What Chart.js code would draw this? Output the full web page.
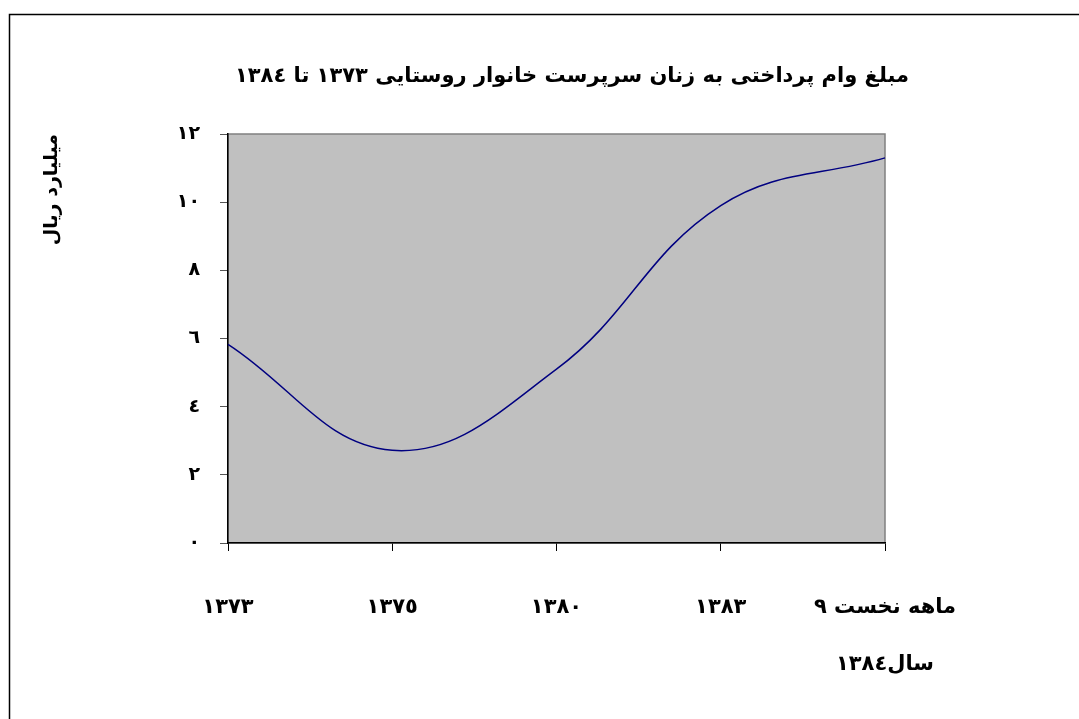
<!DOCTYPE html>
<html><head><meta charset="utf-8">
<script src="https://cdn.jsdelivr.net/npm/chart.js@4.4.1/dist/chart.umd.min.js"></script>
<style>html,body{margin:0;padding:0;background:#fff;overflow:hidden}#wrap{width:1079px;height:719px;position:relative}</style>
</head><body><div id="wrap"><canvas id="c" width="1079" height="719"></canvas></div>
<script>
const years = ['١٣٧٣', '١٣٧٥', '١٣٨٠', '١٣٨٣', ['ماهه نخست ٩', 'سال١٣٨٤']];
const loanValues = [5.83, 2.72, 5.1, 9.9, 11.3];
const yTickLabels = ['٠', '٢', '٤', '٦', '٨', '١٠', '١٢'];
const chartTitle = 'مبلغ وام پرداختی به زنان سرپرست خانوار روستایی ١٣٧٣ تا ١٣٨٤';
const yAxisTitle = 'میلیارد ریال';

const FAMILY = "'DejaVu Sans', sans-serif";

const framePlugin = {
  id: 'framePlugin',
  beforeDraw(chart) {
    const {ctx, chartArea: a} = chart;
    ctx.save();
    ctx.fillStyle = '#fff';
    ctx.fillRect(0, 0, chart.width, chart.height);
    ctx.strokeStyle = '#000';
    ctx.lineWidth = 1.5;
    ctx.beginPath();
    ctx.moveTo(9.5, chart.height);
    ctx.lineTo(9.5, 14.5);
    ctx.lineTo(chart.width, 14.5);
    ctx.stroke();
    ctx.fillStyle = '#c0c0c0';
    ctx.fillRect(a.left, a.top, a.right - a.left, a.bottom - a.top);
    ctx.strokeStyle = '#808080';
    ctx.lineWidth = 1.5;
    ctx.strokeRect(a.left, a.top, a.right - a.left, a.bottom - a.top);
    ctx.fillStyle = '#000';
    ctx.font = 'bold 21px ' + FAMILY;
    ctx.textAlign = 'center';
    ctx.textBaseline = 'middle';
    ctx.fillText(chartTitle, 572, 77);
    ctx.restore();
  }
};

new Chart(document.getElementById('c'), {
  type: 'line',
  data: {
    labels: years,
    datasets: [{
      data: loanValues,
      borderColor: '#000080',
      borderWidth: 1.5,
      pointRadius: 0,
      fill: false,
      tension: 0.4
    }]
  },
  options: {
    responsive: false,
    animation: false,
    devicePixelRatio: 1,
    layout: {padding: {left: 10, top: 134, right: 194, bottom: 0}},
    plugins: {legend: {display: false}, tooltip: {enabled: false}, title: {display: false}},
    scales: {
      x: {
        type: 'category',
        offset: false,
        grid: {display: true, drawOnChartArea: false, drawTicks: true, tickLength: 8, color: '#000', lineWidth: 1},
        border: {display: true, color: '#000', width: 1.5},
        ticks: {autoSkip: false, maxRotation: 0, minRotation: 0, padding: 28, color: '#000',
          font: {family: FAMILY, size: 21, weight: 'bold', lineHeight: '57px'}},
        afterFit(s) { s.height = 176; }
      },
      y: {
        min: 0, max: 12,
        ticks: {stepSize: 2, padding: 20, color: '#000',
          font: {family: FAMILY, size: 19, weight: 'bold'},
          callback: (v) => yTickLabels[Math.round(v / 2)]},
        grid: {drawOnChartArea: false, drawTicks: true, tickLength: 8, color: '#555'},
        border: {display: true, color: '#000', width: 1.5},
        title: {display: true, text: yAxisTitle, align: 'end', color: '#000',
          font: {family: FAMILY, size: 19, weight: 'bold'}, padding: {top: 31, bottom: 0}},
        afterFit(s) { s.width = 218; }
      }
    }
  },
  plugins: [framePlugin]
});
</script>
</body></html>
